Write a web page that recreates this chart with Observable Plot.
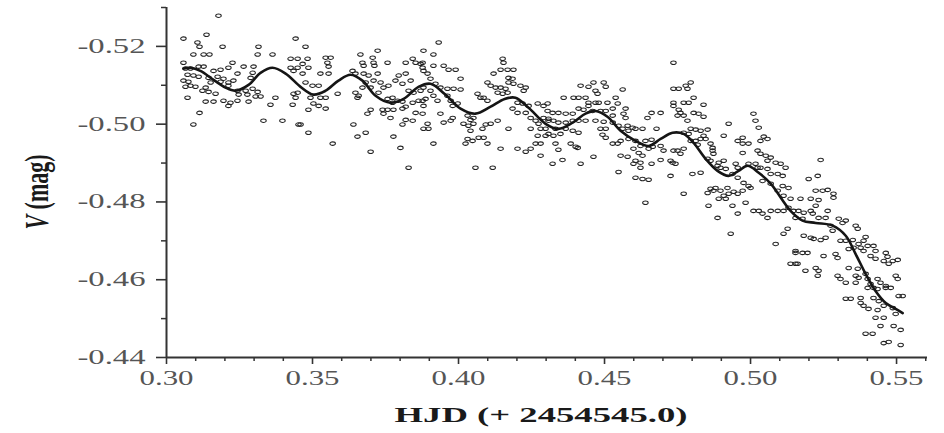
<!DOCTYPE html>
<html><head><meta charset="utf-8">
<script src="https://cdn.jsdelivr.net/npm/d3@7"></script>
<script src="https://cdn.jsdelivr.net/npm/@observablehq/plot@0.6"></script>
<style>html,body{margin:0;padding:0;background:#fff;}#chart{width:944px;height:433px;}</style>
</head><body><div id="chart"></div>
<script>
const xMajorTicks = [0.30, 0.35, 0.40, 0.45, 0.50, 0.55];
const xMinorTicks = [0.31,0.32,0.33,0.34,0.36,0.37,0.38,0.39,0.41,0.42,0.43,0.44,0.46,0.47,0.48,0.49,0.51,0.52,0.53,0.54,0.56];
const yMajorTicks = [-0.52, -0.50, -0.48, -0.46, -0.44];
const yMinorTicks = [-0.53, -0.51, -0.49, -0.47, -0.45];
const xLabel = "HJD (+ 2454545.0)";
const yLabelVar = "V";
const yLabelUnit = " (mag)";

// fitted curve
const fitHJD = [0.3058,0.3082,0.3116,0.3161,0.3202,0.3236,0.3281,0.3322,0.3363,0.3408,0.3459,0.3503,0.3545,0.3589,0.3630,0.3671,0.3716,0.3767,0.3812,0.3863,0.3904,0.3955,0.4007,0.4058,0.4110,0.4158,0.4195,0.4240,0.4298,0.4342,0.4391,0.4435,0.4469,0.4510,0.4555,0.4606,0.4651,0.4692,0.4733,0.4771,0.4805,0.4846,0.4887,0.4925,0.4959,0.4990,0.5028,0.5069,0.5137,0.5178,0.5223,0.5281,0.5326,0.5360,0.5394,0.5428,0.5463,0.5497,0.5521];
const fitV = [-0.5143,-0.5145,-0.5137,-0.5114,-0.5094,-0.5086,-0.5101,-0.5132,-0.5145,-0.5130,-0.5096,-0.5076,-0.5086,-0.5112,-0.5127,-0.5112,-0.5073,-0.5055,-0.5065,-0.5096,-0.5104,-0.5076,-0.5040,-0.5027,-0.5045,-0.5065,-0.5068,-0.5042,-0.5001,-0.4988,-0.5004,-0.5027,-0.5034,-0.5019,-0.4983,-0.4957,-0.4944,-0.4962,-0.4978,-0.4975,-0.4952,-0.4911,-0.4880,-0.4867,-0.4880,-0.4893,-0.4875,-0.4847,-0.4777,-0.4752,-0.4746,-0.4739,-0.4713,-0.4666,-0.4615,-0.4571,-0.4540,-0.4525,-0.4514];

// observations [HJD, V]
const observations = [
[.3178,-.5279],[.3058,-.5220],[.3137,-.5230],[.3106,-.5210],[.3113,-.5199],[.3192,-.5199],[.3315,-.5199],[.3442,-.5220],
[.3092,-.5179],[.3127,-.5179],[.3147,-.5179],[.3312,-.5179],[.3363,-.5179],[.3058,-.5158],[.3425,-.5168],[.3449,-.5168],
[.3110,-.5148],[.3127,-.5148],[.3226,-.5158],[.3264,-.5148],[.3298,-.5148],[.3212,-.5145],[.3065,-.5143],[.3082,-.5143],
[.3161,-.5137],[.3185,-.5140],[.3243,-.5130],[.3295,-.5132],[.3072,-.5127],[.3092,-.5125],[.3110,-.5122],[.3144,-.5119],
[.3175,-.5122],[.3195,-.5117],[.3058,-.5112],[.3075,-.5109],[.3151,-.5107],[.3185,-.5109],[.3212,-.5107],[.3229,-.5112],
[.3288,-.5119],[.3065,-.5096],[.3082,-.5099],[.3099,-.5096],[.3134,-.5094],[.3212,-.5099],[.3123,-.5086],[.3144,-.5083],
[.3243,-.5086],[.3271,-.5086],[.3295,-.5091],[.3312,-.5083],[.3168,-.5078],[.3247,-.5076],[.3277,-.5076],[.3305,-.5071],
[.3322,-.5071],[.3072,-.5068],[.3373,-.5068],[.3435,-.5078],[.3442,-.5068],[.3134,-.5058],[.3161,-.5058],[.3195,-.5060],
[.3219,-.5055],[.3243,-.5060],[.3281,-.5058],[.3212,-.5047],[.3356,-.5050],[.3432,-.5050],[.3113,-.5029],[.3092,-.4999],
[.3332,-.5009],[.3397,-.5009],[.3452,-.4999],[.3425,-.5145],[.3435,-.5137],[.3449,-.5145],
[.3476,-.5199],[.3483,-.5168],[.3466,-.5155],[.3486,-.5145],[.3545,-.5171],[.3562,-.5171],[.3551,-.5158],[.3555,-.5148],
[.3527,-.5130],[.3555,-.5130],[.3466,-.5130],[.3476,-.5107],[.3500,-.5099],[.3521,-.5099],[.3449,-.5081],[.3493,-.5068],
[.3527,-.5068],[.3545,-.5068],[.3586,-.5078],[.3647,-.5081],[.3658,-.5073],[.3654,-.5068],[.3503,-.5053],[.3521,-.5047],
[.3486,-.5037],[.3545,-.5040],[.3459,-.4999],[.3486,-.4978],[.3569,-.4950],[.3640,-.4999],[.3654,-.4968],[.3682,-.4978],
[.3699,-.4929],[.3664,-.5179],[.3723,-.5189],[.3671,-.5158],[.3675,-.5150],[.3706,-.5171],[.3709,-.5158],[.3712,-.5150],
[.3757,-.5158],[.3637,-.5137],[.3647,-.5130],[.3675,-.5130],[.3692,-.5125],[.3723,-.5130],[.3682,-.5107],[.3709,-.5112],
[.3733,-.5107],[.3671,-.5094],[.3699,-.5094],[.3743,-.5094],[.3760,-.5099],[.3726,-.5081],[.3757,-.5065],[.3774,-.5055],
[.3740,-.5037],[.3757,-.5037],[.3777,-.5037],[.3699,-.5037],[.3688,-.5027],[.3743,-.5027],[.3767,-.5016],[.3808,-.5040],
[.3819,-.5045],[.3791,-.5060],[.3808,-.5058],[.3795,-.5125],[.3819,-.5130],[.3819,-.5158],[.3843,-.5168],[.3853,-.5158],
[.3870,-.5155],[.3784,-.5112],[.3808,-.5104],[.3836,-.5112],[.3829,-.5086],[.3846,-.5081],[.3870,-.5086],[.3774,-.5068],
[.3843,-.5055],[.3863,-.5060],[.3853,-.5029],[.3877,-.5027],[.3819,-.5011],[.3843,-.5009],[.3808,-.4999],[.3880,-.4988],
[.3777,-.4968],[.3801,-.4939],[.3829,-.4888],[.3880,-.5189],[.3877,-.5145],[.3880,-.5137],
[.3932,-.5210],[.3914,-.5179],[.3877,-.5158],[.3914,-.5150],[.3949,-.5150],[.3894,-.5130],[.3966,-.5140],[.3990,-.5140],
[.3904,-.5117],[.3921,-.5104],[.4007,-.5117],[.3938,-.5094],[.3962,-.5091],[.3983,-.5091],[.4007,-.5089],[.3877,-.5060],
[.3880,-.5047],[.3914,-.5073],[.3928,-.5060],[.3962,-.5073],[.3973,-.5060],[.3980,-.5047],[.3997,-.5053],[.3938,-.5027],
[.3894,-.5001],[.3897,-.4988],[.3949,-.5004],[.3973,-.5009],[.3980,-.5016],[.3914,-.4950],[.4031,-.5022],[.4041,-.5011],
[.4051,-.5016],[.4017,-.5001],[.4034,-.4996],[.4051,-.5001],[.4041,-.4983],[.4031,-.4962],[.4048,-.4957],[.4069,-.4965],
[.4086,-.4965],[.4024,-.4950],[.4099,-.4950],[.4058,-.4888],[.4117,-.4888],[.4082,-.4988],[.4093,-.4999],[.4110,-.5001],
[.4134,-.5009],[.4171,-.4988],[.4144,-.4937],[.4202,-.4937],[.4230,-.4929],[.4247,-.4937],[.4264,-.4950],[.4281,-.4950],
[.4281,-.4919],[.4065,-.5078],[.4075,-.5068],[.4086,-.5068],[.4099,-.5060],[.4099,-.5107],[.4110,-.5099],[.4120,-.5130],
[.4151,-.5168],[.4154,-.5158],[.4144,-.5140],[.4168,-.5140],[.4188,-.5140],[.4171,-.5119],[.4185,-.5117],[.4127,-.5094],
[.4144,-.5094],[.4161,-.5091],[.4171,-.5107],[.4188,-.5104],[.4212,-.5099],[.4230,-.5094],[.4134,-.5081],[.4151,-.5078],
[.4168,-.5081],[.4223,-.5086],[.4202,-.5055],[.4219,-.5053],[.4240,-.5047],[.4185,-.5040],[.4202,-.5029],[.4230,-.5029],
[.4271,-.5053],[.4291,-.5047],[.4305,-.5053],[.4247,-.5016],[.4264,-.5009],[.4274,-.5001],[.4247,-.4988],[.4281,-.4988],
[.4298,-.4988],[.4291,-.5016],[.4308,-.5009],[.4271,-.4970],[.4298,-.4970],[.3880,-.5094],[.3904,-.5086],[.3887,-.5065],
[.4418,-.5099],[.4445,-.5096],[.4462,-.5107],[.4497,-.5107],[.4504,-.5096],[.4469,-.5086],[.4476,-.5078],[.4562,-.5089],
[.4394,-.5068],[.4411,-.5068],[.4435,-.5068],[.4360,-.5068],[.4538,-.5068],[.4445,-.5055],[.4469,-.5055],[.4480,-.5055],
[.4510,-.5055],[.4545,-.5053],[.4445,-.5047],[.4305,-.5034],[.4322,-.5029],[.4342,-.5029],[.4367,-.5027],[.4391,-.5027],
[.4411,-.5040],[.4428,-.5037],[.4459,-.5034],[.4486,-.5034],[.4504,-.5034],[.4528,-.5040],[.4572,-.5040],[.4565,-.5027],
[.4572,-.5016],[.4528,-.5022],[.4308,-.5014],[.4325,-.5009],[.4342,-.5004],[.4367,-.5004],[.4391,-.5009],[.4411,-.5009],
[.4435,-.5009],[.4469,-.5009],[.4497,-.5006],[.4528,-.5004],[.4548,-.4996],[.4579,-.4996],[.4596,-.4991],[.4332,-.4988],
[.4367,-.4988],[.4391,-.4983],[.4411,-.4978],[.4486,-.4988],[.4504,-.4988],[.4562,-.4988],[.4582,-.4983],[.4606,-.4988],
[.4630,-.4988],[.4678,-.4988],[.4308,-.4975],[.4325,-.4970],[.4349,-.4975],[.4493,-.4973],[.4504,-.4965],[.4555,-.4957],
[.4582,-.4962],[.4606,-.4957],[.4640,-.4957],[.4661,-.4960],[.4528,-.4950],[.4545,-.4950],[.4332,-.4950],[.4384,-.4950],
[.4401,-.4942],[.4623,-.4944],[.4665,-.4942],[.4692,-.4944],[.4651,-.4937],[.4702,-.4932],[.4599,-.4937],[.4617,-.4926],
[.4342,-.4934],[.4408,-.4939],[.4661,-.5029],[.4692,-.5029],[.4647,-.5016],[.4322,-.4898],[.4356,-.4908],[.4418,-.4898],
[.4462,-.4916],[.4555,-.4919],[.4579,-.4916],[.4606,-.4906],[.4623,-.4901],[.4630,-.4919],[.4599,-.4898],[.4661,-.4898],
[.4623,-.4888],[.4692,-.4908],[.4726,-.4906],[.4548,-.4877],[.4606,-.4862],[.4630,-.4859],[.4651,-.4857],[.4726,-.4867],
[.4640,-.4798],[.4736,-.5055],[.4736,-.5158],
[.4795,-.5107],[.4778,-.5099],[.4784,-.5091],[.4736,-.5091],[.4754,-.5091],[.4805,-.5068],[.4771,-.5055],[.4788,-.5055],
[.4736,-.5047],[.4839,-.5050],[.4754,-.5037],[.4760,-.5029],[.4805,-.5029],[.4822,-.5027],[.4839,-.5019],[.4771,-.5022],
[.4750,-.5022],[.4784,-.5009],[.4925,-.5001],[.5010,-.5027],[.5017,-.5009],[.5028,-.4991],[.4795,-.4988],[.4812,-.4986],
[.4829,-.4983],[.4853,-.4986],[.4771,-.4978],[.4788,-.4975],[.4839,-.4970],[.4846,-.4962],[.4829,-.4962],[.4812,-.4957],
[.4795,-.4957],[.4819,-.4947],[.4863,-.4950],[.4870,-.4939],[.4908,-.4970],[.4973,-.4965],[.4956,-.4957],[.4973,-.4950],
[.4993,-.4950],[.5045,-.4968],[.5058,-.4962],[.5034,-.4957],[.4750,-.4932],[.4771,-.4937],[.4760,-.4924],[.4870,-.4932],
[.4873,-.4924],[.4908,-.4906],[.4891,-.4901],[.4973,-.4926],[.5024,-.4932],[.5034,-.4924],[.5052,-.4919],[.5069,-.4914],
[.5058,-.4906],[.4733,-.4901],[.4743,-.4898],[.4853,-.4911],[.4863,-.4906],[.4887,-.4893],[.4897,-.4888],[.4915,-.4885],
[.4949,-.4898],[.4956,-.4888],[.4993,-.4898],[.5017,-.4898],[.5024,-.4888],[.5034,-.4888],[.5058,-.4885],[.5086,-.4901],
[.5103,-.4898],[.5120,-.4888],[.5069,-.4872],[.5093,-.4872],[.5110,-.4867],[.4801,-.4872],[.4829,-.4875],[.4938,-.4872],
[.4956,-.4862],[.4880,-.4836],[.4863,-.4834],[.4853,-.4823],[.4873,-.4829],[.4897,-.4829],[.4921,-.4836],[.4925,-.4821],
[.4942,-.4826],[.4908,-.4816],[.4891,-.4808],[.4915,-.4808],[.4956,-.4821],[.4973,-.4829],[.5000,-.4836],[.4771,-.4821],
[.4856,-.4790],[.4938,-.4790],[.4983,-.4798],[.4956,-.4770],[.4887,-.4759],[.5010,-.4777],[.5028,-.4777],[.5041,-.4770],
[.5058,-.4759],[.5069,-.4777],[.5093,-.4777],[.5113,-.4777],[.5041,-.4854],[.5069,-.4847],[.5110,-.4841],[.5130,-.4836],
[.5093,-.4829],[.5113,-.4816],[.5137,-.4808],[.5130,-.4785],[.5147,-.4777],[.4932,-.4718],[.5113,-.4718],[.5127,-.4731],
[.5086,-.4692],[.5154,-.4669],[.5137,-.4641],[.5154,-.4641],[.4976,-.4849],[.4993,-.4841],[.4736,-.4932],
[.5240,-.4908],[.5199,-.4859],[.5230,-.4867],[.5223,-.4829],[.5247,-.4829],[.5264,-.4831],[.5284,-.4821],[.5284,-.4811],
[.5171,-.4808],[.5206,-.4808],[.5233,-.4805],[.5223,-.4790],[.5164,-.4777],[.5182,-.4772],[.5206,-.4777],[.5213,-.4770],
[.5264,-.4777],[.5154,-.4759],[.5178,-.4757],[.5233,-.4759],[.5257,-.4759],[.5302,-.4757],[.5326,-.4752],[.5315,-.4746],
[.5274,-.4739],[.5281,-.4726],[.5360,-.4739],[.5367,-.4731],[.5182,-.4713],[.5206,-.4708],[.5216,-.4705],[.5240,-.4702],
[.5257,-.4708],[.5308,-.4700],[.5326,-.4700],[.5350,-.4702],[.5394,-.4710],[.5387,-.4700],[.5370,-.4692],[.5401,-.4687],
[.5421,-.4687],[.5428,-.4674],[.5463,-.4669],[.5469,-.4659],[.5487,-.4648],[.5504,-.4651],[.5473,-.4641],[.5154,-.4674],
[.5178,-.4669],[.5195,-.4669],[.5250,-.4661],[.5291,-.4666],[.5298,-.4656],[.5336,-.4679],[.5353,-.4682],[.5377,-.4682],
[.5387,-.4674],[.5411,-.4661],[.5428,-.4654],[.5456,-.4648],[.5336,-.4630],[.5367,-.4628],[.5188,-.4623],[.5223,-.4630],
[.5233,-.4623],[.5230,-.4610],[.5298,-.4610],[.5308,-.4602],[.5326,-.4592],[.5360,-.4610],[.5370,-.4605],[.5394,-.4615],
[.5401,-.4602],[.5435,-.4602],[.5445,-.4592],[.5463,-.4584],[.5497,-.4610],[.5504,-.4602],[.5161,-.4641],[.5411,-.4589],
[.5401,-.4579],[.5360,-.4592],[.5421,-.4579],[.5435,-.4576],[.5463,-.4579],[.5480,-.4579],[.5326,-.4551],[.5343,-.4551],
[.5377,-.4553],[.5377,-.4540],[.5387,-.4533],[.5421,-.4553],[.5439,-.4545],[.5404,-.4525],[.5435,-.4522],[.5456,-.4533],
[.5487,-.4527],[.5497,-.4512],[.5428,-.4502],[.5456,-.4502],[.5445,-.4481],[.5490,-.4481],[.5514,-.4471],[.5394,-.4461],
[.5418,-.4461],[.5456,-.4437],[.5473,-.4440],[.5514,-.4432],[.5507,-.4558],[.5521,-.4558]
];

const obsData = observations.map(([hjd, v]) => ({hjd, v}));
const fitData = fitHJD.map((hjd, i) => ({hjd, v: fitV[i]}));

// open ellipse marker (horizontally elongated circle)
const ellipse = {
  draw(ctx, size) {
    const r = Math.sqrt(size / Math.PI), rx = r * 1.35, ry = r * 0.85, k = 0.5523;
    ctx.moveTo(rx, 0);
    ctx.bezierCurveTo(rx, ry * k, rx * k, ry, 0, ry);
    ctx.bezierCurveTo(-rx * k, ry, -rx, ry * k, -rx, 0);
    ctx.bezierCurveTo(-rx, -ry * k, -rx * k, -ry, 0, -ry);
    ctx.bezierCurveTo(rx * k, -ry, rx, -ry * k, rx, 0);
    ctx.closePath();
  }
};

const axisColor = "#333";
const labelColor = "#555";
const fmt = d => d.toFixed(2);

const chart = Plot.plot({
  width: 944,
  height: 433,
  marginLeft: 166,
  marginRight: 17,
  marginTop: 7,
  marginBottom: 76,
  style: {fontFamily: "'Liberation Serif', 'Times New Roman', serif", background: "#fff"},
  x: {domain: [0.30, 0.5606]},
  y: {domain: [-0.44, -0.53]},
  marks: [
    Plot.axisX(xMinorTicks, {tickSize: 4, tickFormat: () => "", stroke: axisColor, strokeWidth: 1.5, label: null}),
    Plot.axisX(xMajorTicks, {tickSize: 7, tickPadding: 6, tickFormat: fmt, fontSize: 20, fill: labelColor, stroke: axisColor, strokeWidth: 1.6, label: null}),
    Plot.axisY(yMinorTicks, {tickSize: 5, tickFormat: () => "", stroke: axisColor, strokeWidth: 1.5, label: null}),
    Plot.axisY(yMajorTicks, {tickSize: 10, tickPadding: 11, tickFormat: fmt, fontSize: 20, fill: labelColor, stroke: axisColor, strokeWidth: 1.6, label: null}),
    Plot.ruleX([0.30], {stroke: axisColor, strokeWidth: 2}),
    Plot.ruleY([-0.44], {stroke: axisColor, strokeWidth: 2}),
    Plot.dot(obsData, {x: "hjd", y: "v", r: 2.05, symbol: ellipse, fill: "none", stroke: "#222", strokeWidth: 1.05}),
    Plot.line(fitData, {x: "hjd", y: "v", curve: "catmull-rom", stroke: "#151515", strokeWidth: 2.6})
  ]
});

document.getElementById("chart").append(chart);
const svg = d3.select(chart);

// stretch tick labels horizontally like the reference
svg.selectAll('g[aria-label="y-axis tick label"] text')
  .filter(function() { return this.textContent.trim() !== ""; })
  .attr("textLength", 68).attr("lengthAdjust", "spacingAndGlyphs");
svg.selectAll('g[aria-label="x-axis tick label"] text')
  .filter(function() { return this.textContent.trim() !== ""; })
  .attr("textLength", 54).attr("lengthAdjust", "spacingAndGlyphs");

// x axis title
svg.append("text")
  .attr("x", 541).attr("y", 422)
  .attr("text-anchor", "middle")
  .attr("font-size", 22).attr("font-weight", "bold").attr("fill", "#1a1a1a")
  .attr("textLength", 293).attr("lengthAdjust", "spacingAndGlyphs")
  .text(xLabel);

// y axis title
const yl = svg.append("text")
  .attr("transform", "translate(48,192) rotate(-90) scale(1,1.5)")
  .attr("text-anchor", "middle")
  .attr("font-size", 22).attr("font-weight", "bold").attr("fill", "#1a1a1a");
yl.append("tspan").attr("font-style", "italic").text(yLabelVar);
yl.append("tspan").text(yLabelUnit);
</script>
</body></html>
